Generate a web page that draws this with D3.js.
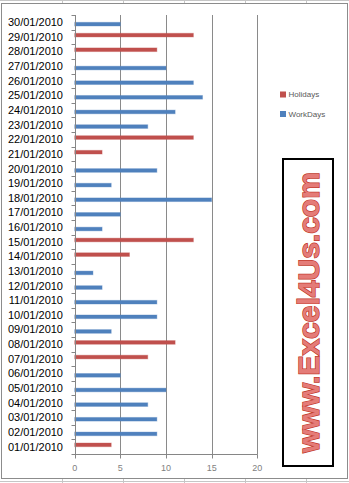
<!DOCTYPE html>
<html>
<head>
<meta charset="utf-8">
<script src="https://cdn.jsdelivr.net/npm/d3@7"></script>
<style>
  html, body { margin: 0; padding: 0; background: #fff; }
  svg { display: block; }
</style>
</head>
<body>
<svg id="chart" width="349" height="483"></svg>
<script>
// Days of January 2010 (bottom to top in the chart)
const dates = [
  "01/01/2010","02/01/2010","03/01/2010","04/01/2010","05/01/2010",
  "06/01/2010","07/01/2010","08/01/2010","09/01/2010","10/01/2010",
  "11/01/2010","12/01/2010","13/01/2010","14/01/2010","15/01/2010",
  "16/01/2010","17/01/2010","18/01/2010","19/01/2010","20/01/2010",
  "21/01/2010","22/01/2010","23/01/2010","24/01/2010","25/01/2010",
  "26/01/2010","27/01/2010","28/01/2010","29/01/2010","30/01/2010"
];
// Series values per day (0 = no bar for that series)
const holidays = [4,0,0,0,0, 0,8,11,0,0, 0,0,0,6,13, 0,0,0,0,0, 3,13,0,0,0, 0,0,9,13,0];
const workDays = [0,9,9,8,10, 5,0,0,4,9, 9,3,2,0,0, 3,5,15,4,9, 0,0,8,11,14, 13,10,0,0,5];
const seriesNames = ["Holidays", "WorkDays"];
const seriesColors = ["#C0504D", "#4F81BD"];
const xTicks = [0, 5, 10, 15, 20];

const svg = d3.select("#chart");
const W = 349, H = 483;

// Worksheet cell lines peeking around the chart object
const sheetCols = [62, 123, 184, 245, 306];
const sheet = svg.append("g").attr("stroke", "#c6c6c6").attr("stroke-width", 1);
sheet.append("line").attr("x1", 0).attr("x2", W).attr("y1", 0.5).attr("y2", 0.5);
sheet.append("line").attr("x1", 0).attr("x2", W).attr("y1", 481.5).attr("y2", 481.5);
sheetCols.forEach(c => {
  sheet.append("line").attr("x1", c + 0.5).attr("x2", c + 0.5).attr("y1", 0).attr("y2", 3);
  sheet.append("line").attr("x1", c + 0.5).attr("x2", c + 0.5).attr("y1", 479).attr("y2", H);
});

// Chart frame
svg.append("rect")
  .attr("x", 1.5).attr("y", 3.5).attr("width", 346).attr("height", 475)
  .attr("fill", "#fff").attr("stroke", "#8c8c8c").attr("stroke-width", 1);

// Scales
const plot = { left: 74.7, right: 257.3, top: 15, bottom: 454 };
const x = d3.scaleLinear().domain([0, 20]).range([plot.left, plot.right]);
const y = d3.scaleBand()
  .domain(dates.slice().reverse())
  .range([plot.top, plot.bottom])
  .paddingInner(0.5).paddingOuter(0.25);
const ySub = d3.scaleBand().domain(seriesNames).range([0, y.bandwidth()]);
const step = y.step();

// Vertical gridlines
svg.append("g").selectAll("line")
  .data(xTicks.filter(t => t > 0))
  .join("line")
  .attr("x1", d => Math.round(x(d)) + 0.5).attr("x2", d => Math.round(x(d)) + 0.5)
  .attr("y1", plot.top).attr("y2", plot.bottom)
  .attr("stroke", "#8a8a8a").attr("stroke-width", 1);

// Bars
const rows = dates.map((d, i) => ({ date: d, values: [holidays[i], workDays[i]] }));
const barG = svg.append("g");
rows.forEach(r => {
  r.values.forEach((v, si) => {
    if (v <= 0) return;
    barG.append("rect")
      .attr("x", x(0))
      .attr("y", y(r.date) + ySub(seriesNames[si]))
      .attr("width", x(v) - x(0))
      .attr("height", ySub.bandwidth())
      .attr("fill", seriesColors[si])
      .attr("stroke", seriesColors[si])
      .attr("stroke-opacity", 0.35)
      .attr("stroke-width", 1);
  });
});

// Category axis (left)
const yAxisX = Math.round(plot.left) + 0.5;
const axisColor = "#868686";
svg.append("line")
  .attr("x1", yAxisX).attr("x2", yAxisX)
  .attr("y1", plot.top).attr("y2", plot.bottom + 3)
  .attr("stroke", axisColor);
const boundaries = d3.range(dates.length + 1).map(i => plot.top + i * step);
svg.append("g").selectAll("line")
  .data(boundaries)
  .join("line")
  .attr("x1", yAxisX - 4).attr("x2", yAxisX)
  .attr("y1", d => Math.round(d) + 0.5).attr("y2", d => Math.round(d) + 0.5)
  .attr("stroke", axisColor);
svg.append("g").selectAll("text")
  .data(dates)
  .join("text")
  .attr("x", 63)
  .attr("y", d => y(d) + y.bandwidth() / 2)
  .attr("dy", "0.35em")
  .attr("text-anchor", "end")
  .attr("font-family", "Liberation Sans, Arial, sans-serif")
  .attr("font-size", 11)
  .attr("fill", "#000")
  .text(d => d);

// Value axis (bottom)
const xAxisY = Math.round(plot.bottom) + 0.5;
svg.append("line")
  .attr("x1", plot.left).attr("x2", plot.right + 0.5)
  .attr("y1", xAxisY).attr("y2", xAxisY)
  .attr("stroke", axisColor);
svg.append("g").selectAll("line")
  .data(xTicks)
  .join("line")
  .attr("x1", d => Math.round(x(d)) + 0.5).attr("x2", d => Math.round(x(d)) + 0.5)
  .attr("y1", xAxisY).attr("y2", xAxisY + 4)
  .attr("stroke", axisColor);
svg.append("g").selectAll("text")
  .data(xTicks)
  .join("text")
  .attr("x", d => x(d))
  .attr("y", 471)
  .attr("text-anchor", "middle")
  .attr("font-family", "Liberation Sans, Arial, sans-serif")
  .attr("font-size", 9)
  .attr("fill", "#7f7f7f")
  .text(d => d);

// Legend
const legend = svg.append("g");
seriesNames.forEach((name, i) => {
  const ly = 94.5 + i * 19.5;
  legend.append("rect")
    .attr("x", 280).attr("y", ly - 3).attr("width", 6).attr("height", 6)
    .attr("fill", seriesColors[i]);
  legend.append("text")
    .attr("x", 288.5).attr("y", ly)
    .attr("dy", "0.35em")
    .attr("font-family", "Liberation Sans, Arial, sans-serif")
    .attr("font-size", 8)
    .attr("fill", "#595959")
    .text(name);
});

// Site banner box
svg.append("rect")
  .attr("x", 283).attr("y", 159).attr("width", 50).attr("height", 307)
  .attr("fill", "#fff").attr("stroke", "#000").attr("stroke-width", 2);
svg.append("text")
  .attr("transform", "translate(308,312.5) rotate(-90)")
  .attr("text-anchor", "middle")
  .attr("dy", "0.36em")
  .attr("font-family", "Liberation Sans, Arial, sans-serif")
  .attr("font-weight", "bold")
  .attr("font-size", 30)
  .attr("fill", "#e47c78")
  .attr("stroke", "#c0392b")
  .attr("stroke-width", 1.4)
  .attr("paint-order", "stroke")
  .text("www.Excel4Us.com");
</script>
</body>
</html>
